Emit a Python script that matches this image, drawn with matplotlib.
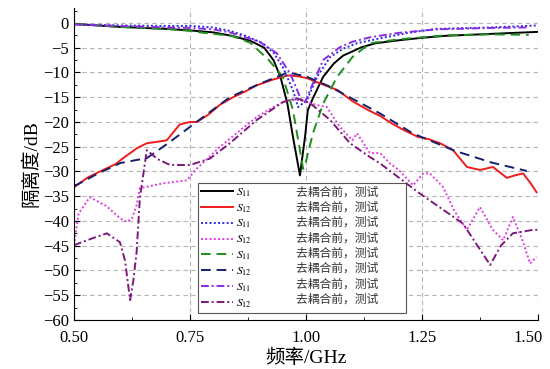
import numpy as np
import matplotlib
matplotlib.use("Agg")
import matplotlib.pyplot as plt
import matplotlib.transforms as mtransforms
from matplotlib.lines import Line2D
from matplotlib.ticker import MultipleLocator

plt.rcParams['font.family'] = ['Liberation Serif', 'Noto Sans CJK SC']
plt.rcParams['mathtext.fontset'] = 'stix'
plt.rcParams['axes.unicode_minus'] = True

# S11 curves (before decoupling, measured)
f_black = [0.50, 0.60, 0.70, 0.75, 0.80, 0.84, 0.88, 0.91, 0.93, 0.945, 0.96, 0.972, 0.987,
           0.998, 1.004, 1.015, 1.037, 1.06, 1.08, 1.12, 1.15, 1.20, 1.25, 1.30, 1.40, 1.50]
s_black = [-0.2, -0.8, -1.2, -1.5, -1.9, -2.6, -3.6, -5.0, -7.5, -10.9, -16.3, -23.0, -30.8,
           -23.0, -17.6, -15.2, -10.9, -8.2, -6.6, -4.9, -4.1, -3.5, -3.0, -2.6, -2.2, -1.8]

f_green = [0.50, 0.60, 0.70, 0.75, 0.78, 0.84, 0.88, 0.92, 0.95, 0.972, 0.994, 1.00, 1.015,
           1.037, 1.067, 1.10, 1.138, 1.20, 1.25, 1.30, 1.40, 1.48]
s_green = [-0.2, -0.8, -1.2, -1.6, -2.0, -2.6, -4.0, -7.5, -10.9, -17.6, -29.5, -28.0, -22.3,
           -16.3, -10.9, -6.9, -4.1, -3.3, -2.9, -2.5, -2.3, -2.4]

f_blue = [0.50, 0.60, 0.70, 0.75, 0.80, 0.836, 0.87, 0.907, 0.93, 0.95, 0.972, 0.983, 1.002,
          1.024, 1.052, 1.08, 1.11, 1.16, 1.22, 1.28, 1.40, 1.50]
s_blue = [-0.3, -0.5, -0.6, -0.6, -0.9, -1.6, -2.6, -4.1, -6.0, -8.9, -13.6, -17.0, -15.6,
          -10.9, -6.9, -5.2, -4.1, -3.1, -2.0, -1.2, -0.9, -0.5]

f_violet = [0.50, 0.60, 0.70, 0.75, 0.80, 0.836, 0.90, 0.937, 0.966, 0.99, 0.998, 1.015,
            1.037, 1.073, 1.10, 1.138, 1.20, 1.28, 1.40, 1.48]
s_violet = [-0.3, -0.6, -0.9, -1.0, -1.3, -1.9, -3.8, -6.1, -10.2, -15.6, -16.0, -12.2,
            -7.5, -4.9, -3.8, -2.9, -2.0, -1.3, -1.0, -0.9]

# S12 curves
f_red = [0.50, 0.53, 0.563, 0.59, 0.606, 0.636, 0.657, 0.68, 0.70, 0.728, 0.75, 0.765, 0.79,
         0.815, 0.843, 0.87, 0.894, 0.93, 0.961, 0.985, 1.004, 1.03, 1.069, 1.10, 1.134, 1.16,
         1.185, 1.21, 1.241, 1.265, 1.289, 1.317, 1.347, 1.375, 1.403, 1.433, 1.45, 1.468,
         1.485, 1.497]
s_red = [-33.2, -31.2, -29.7, -28.5, -27.3, -25.3, -24.3, -24.0, -23.7, -20.5, -20.0, -20.0,
         -18.5, -16.5, -15.0, -13.8, -12.6, -11.4, -10.6, -10.8, -11.2, -12.2, -13.6, -15.8,
         -17.6, -18.8, -20.3, -21.6, -23.0, -23.5, -24.3, -25.7, -29.1, -29.7, -29.1, -31.3,
         -30.8, -30.4, -32.5, -34.2]

f_navy = [0.50, 0.55, 0.60, 0.657, 0.70, 0.75, 0.80, 0.836, 0.90, 0.961, 1.00, 1.05, 1.16,
          1.23, 1.32, 1.40, 1.476]
s_navy = [-33.0, -30.5, -28.3, -27.3, -24.5, -21.0, -17.5, -15.0, -12.3, -10.0, -10.8, -12.8,
          -18.3, -22.3, -25.8, -28.2, -29.9]

f_magenta = [0.50, 0.51, 0.534, 0.57, 0.60, 0.614, 0.625, 0.635, 0.642, 0.692, 0.743, 0.765,
             0.815, 0.858, 0.894, 0.93, 0.959, 0.987, 1.024, 1.045, 1.073, 1.10, 1.11, 1.138,
             1.16, 1.181, 1.20, 1.231, 1.253, 1.267, 1.295, 1.32, 1.347, 1.375, 1.403, 1.425,
             1.446, 1.465, 1.483, 1.497]
s_magenta = [-44.9, -38.5, -35.2, -37.0, -39.5, -40.2, -39.5, -36.8, -33.4, -32.4, -31.8, -29.4,
             -25.0, -21.7, -19.0, -17.0, -15.6, -15.6, -16.6, -17.0, -21.0, -23.7, -22.3, -26.3,
             -26.3, -28.4, -29.7, -32.8, -30.4, -30.4, -33.1, -38.0, -41.8, -37.2, -41.8, -43.9,
             -39.2, -43.5, -48.6, -47.3]

f_purple = [0.50, 0.54, 0.571, 0.599, 0.61, 0.621, 0.628, 0.635, 0.642, 0.657, 0.68, 0.707,
            0.75, 0.793, 0.836, 0.894, 0.95, 0.98, 1.009, 1.052, 1.095, 1.138, 1.16, 1.246,
            1.338, 1.397, 1.42, 1.446, 1.489, 1.50]
s_purple = [-44.9, -43.5, -42.5, -44.3, -48.0, -56.0, -52.0, -46.3, -35.4, -25.7, -27.5, -28.7,
            -28.7, -27.4, -24.3, -19.6, -16.0, -15.2, -16.2, -19.6, -24.3, -27.1, -28.4, -34.5,
            -40.5, -48.9, -45.0, -42.5, -41.8, -41.8]

x_ticks = [0.50, 0.75, 1.00, 1.25, 1.50]
y_ticks = [0, -5, -10, -15, -20, -25, -30, -35, -40, -45, -50, -55, -60]
leg_params = [r"$S_{11}$", r"$S_{12}$"] * 4
leg_note = "去耦合前，测试"

fig = plt.figure(figsize=(5.5, 3.69), dpi=100)
ax = fig.add_axes([0.1345, 0.133, 0.8436, 0.845])

lw = 1.4
dot = (0, (1, 1.2))
dash = (0, (5, 3))
dashdot = (0, (4, 1.5, 1, 1.5))
lines = []
lines += ax.plot(f_black, s_black, color='black', lw=lw)
lines += ax.plot(f_red, s_red, color='#f01c1c', lw=lw)
lines += ax.plot(f_blue, s_blue, color='#2a2ae0', lw=lw, ls=dot)
lines += ax.plot(f_magenta, s_magenta, color='#e23de2', lw=lw, ls=dot)
lines += ax.plot(f_green, s_green, color='#1f8f1f', lw=lw, ls=dash)
lines += ax.plot(f_navy, s_navy, color='#16206e', lw=lw, ls=dash)
lines += ax.plot(f_violet, s_violet, color='#8a2be2', lw=lw, ls=dashdot)
lines += ax.plot(f_purple, s_purple, color='#7a1a7a', lw=lw, ls=dashdot)

ax.set_xlim(0.5, 1.5)
ax.set_ylim(-60, 3)
ax.set_xticks(x_ticks)
ax.set_xticklabels([f"{t:.2f}" for t in x_ticks])
ax.set_yticks(y_ticks)
ax.xaxis.set_minor_locator(MultipleLocator(0.125))
ax.yaxis.set_minor_locator(MultipleLocator(2.5))
ax.tick_params(axis='x', which='major', pad=7)
ax.tick_params(axis='both', which='major', direction='in', length=4, labelsize=12)
ax.tick_params(axis='both', which='minor', direction='in', length=2.5)
ax.grid(True, which='major', color='#b5b5b5', ls=(0, (4, 3)), lw=0.8)
for sp in ['top', 'right']:
    ax.spines[sp].set_visible(False)

# last tick label sits a little left of its tick in the original
shift = mtransforms.ScaledTranslation(-10 / 100, 0, fig.dpi_scale_trans)
last = ax.get_xticklabels()[-1]
last.set_transform(last.get_transform() + shift)

ax.set_xlabel("频率/GHz", fontsize=14, labelpad=2)
ax.set_ylabel("隔离度/dB", fontsize=14, labelpad=2)

blank = [Line2D([], [], lw=0) for _ in range(8)]
leg = ax.legend(lines + blank, leg_params + [leg_note + "\u3000\u3000"] * 8,
                ncol=2, loc='lower left', bbox_to_anchor=(0.267, 0.022),
                fontsize=8.5, handlelength=2.7, handletextpad=0.2, labelspacing=0.28,
                columnspacing=0.9, borderpad=0.3, frameon=True, fancybox=False,
                framealpha=1, borderaxespad=0)
leg.get_frame().set_edgecolor('#555555')
leg.get_frame().set_linewidth(0.8)
for t in leg.get_texts()[8:]:
    t.set_color('#333333')

fig.savefig("out.png", dpi=100)
